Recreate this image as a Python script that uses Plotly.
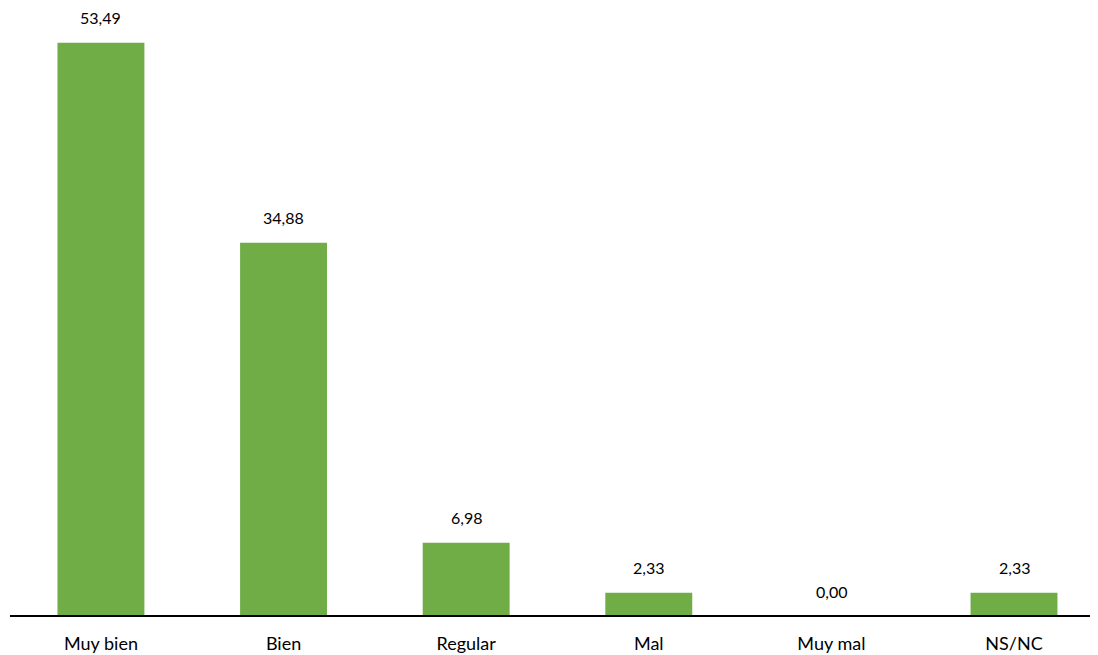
import plotly.graph_objects as go

categories = ["Muy bien", "Bien", "Regular", "Mal", "Muy mal", "NS/NC"]
values = [53.49, 34.88, 6.98, 2.33, 0.00, 2.33]
labels = [f"{v:.2f}".replace(".", ",") for v in values]

fig = go.Figure(go.Bar(
    x=categories, y=values,
    marker=dict(color="#70AD47", line=dict(width=0)),
    width=0.476,
))

for c, v, t in zip(categories, values, labels):
    fig.add_annotation(x=c, y=max(v, 0.25), text=t, showarrow=False, yanchor="bottom",
                       yshift=12 if v == 0 else 14,
                       font=dict(size=16, color="#000000", family="Lato"))

fig.update_layout(
    width=1090, height=647,
    margin=dict(l=2, r=0, t=12, b=40),
    plot_bgcolor="white", paper_bgcolor="white",
    showlegend=False,
    font=dict(family="Lato", color="#000000"),
    xaxis=dict(range=[-0.498, 5.46], showline=True, linecolor="#000000", linewidth=2,
               ticks="", tickfont=dict(size=18), ticklabelstandoff=11, showgrid=False),
    yaxis=dict(range=[0.25, 55.6], visible=False, showgrid=False),
)

fig.write_html("out.html")
